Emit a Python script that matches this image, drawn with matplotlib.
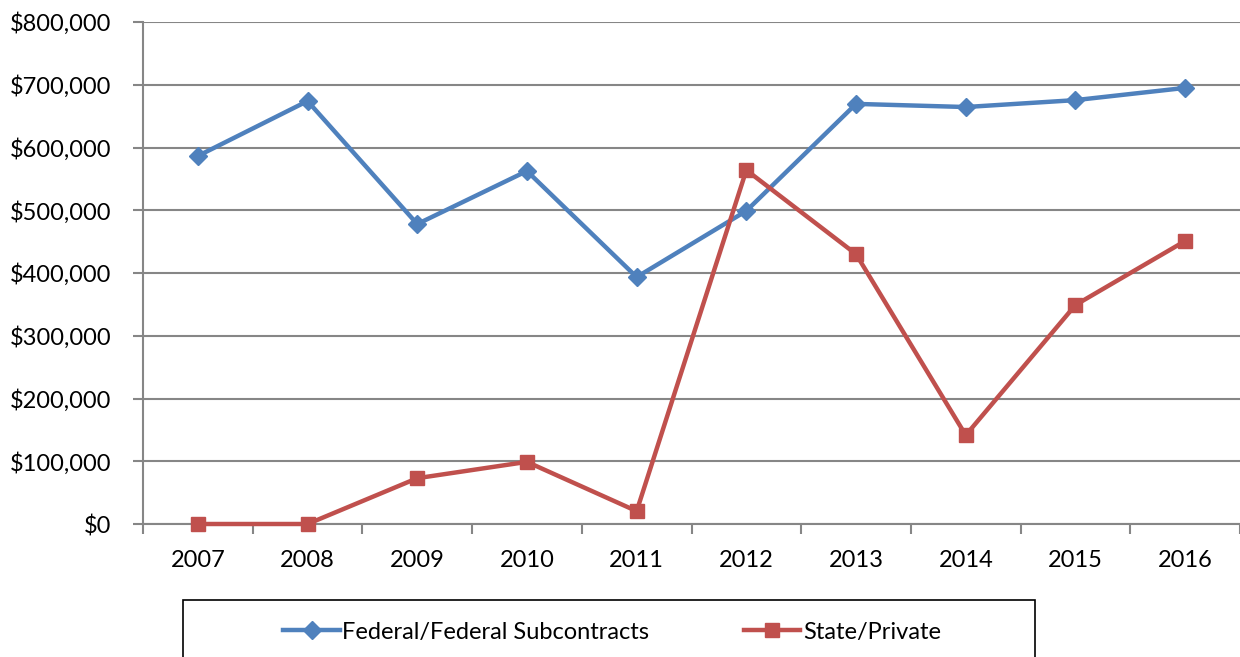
import matplotlib.pyplot as plt
import numpy as np
from matplotlib.patches import Rectangle
from matplotlib.ticker import FuncFormatter

plt.rcParams['font.family'] = ['Lato', 'DejaVu Sans']

# data
years = ['2007', '2008', '2009', '2010', '2011', '2012', '2013', '2014', '2015', '2016']
federal = [586500, 674000, 478000, 562500, 393500, 499000, 669500, 664500, 675500, 695000]
state_private = [0, 0, 73000, 99000, 20500, 564000, 430000, 141500, 349000, 451000]

blue = '#4F81BD'
red = '#C0504D'
grid_col = '#868686'

fig = plt.figure(figsize=(12.4, 6.57), dpi=100)
ax = fig.add_axes([143 / 1240, 1 - 524 / 657, 1 - 143 / 1240, (524 - 22) / 657])

x = np.arange(len(years))
ax.plot(x, federal, color=blue, lw=3.2, marker='D', ms=9, mec=blue, mfc=blue,
        label='Federal/Federal Subcontracts', zorder=3, clip_on=False)
ax.plot(x, state_private, color=red, lw=3.2, marker='s', ms=10.5, mec=red, mfc=red,
        label='State/Private', zorder=4, clip_on=False)

ax.set_xlim(-0.5, len(years) - 0.5)
ax.set_ylim(0, 800000)
ax.set_yticks(np.arange(0, 800001, 100000))
ax.yaxis.set_major_formatter(FuncFormatter(lambda v, p: '${:,.0f}'.format(v)))
ax.grid(axis='y', color=grid_col, lw=1.5)
ax.set_axisbelow(True)

# category boundaries get the tick marks, labels sit between them
ax.set_xticks(np.arange(-0.5, len(years), 1))
ax.set_xticklabels([])
ax.set_xticks(x, minor=True)
ax.set_xticklabels(years, minor=True)
ax.tick_params(axis='x', which='major', length=7, width=1.5, color=grid_col)
ax.tick_params(axis='x', which='minor', length=0, pad=19, labelsize=17)
ax.tick_params(axis='y', length=7, width=1.5, color=grid_col, pad=16, labelsize=17)

for s in ['top', 'right']:
    ax.spines[s].set_visible(False)
for s in ['left', 'bottom']:
    ax.spines[s].set_color(grid_col)
    ax.spines[s].set_linewidth(1.5)

# legend box running off the bottom edge
fig.patches.append(Rectangle((183 / 1240, -0.05), (1035 - 183) / 1240, 0.05 + 1 - 600 / 657,
                             transform=fig.transFigure, fill=False, ec='black', lw=1.2))
fig.legend(loc='center', bbox_to_anchor=(612 / 1240, 1 - 632 / 657), ncol=2, frameon=False,
           fontsize=17, handlelength=2.4, columnspacing=4.0, handletextpad=0.1)

fig.savefig('out.png', dpi=100)
